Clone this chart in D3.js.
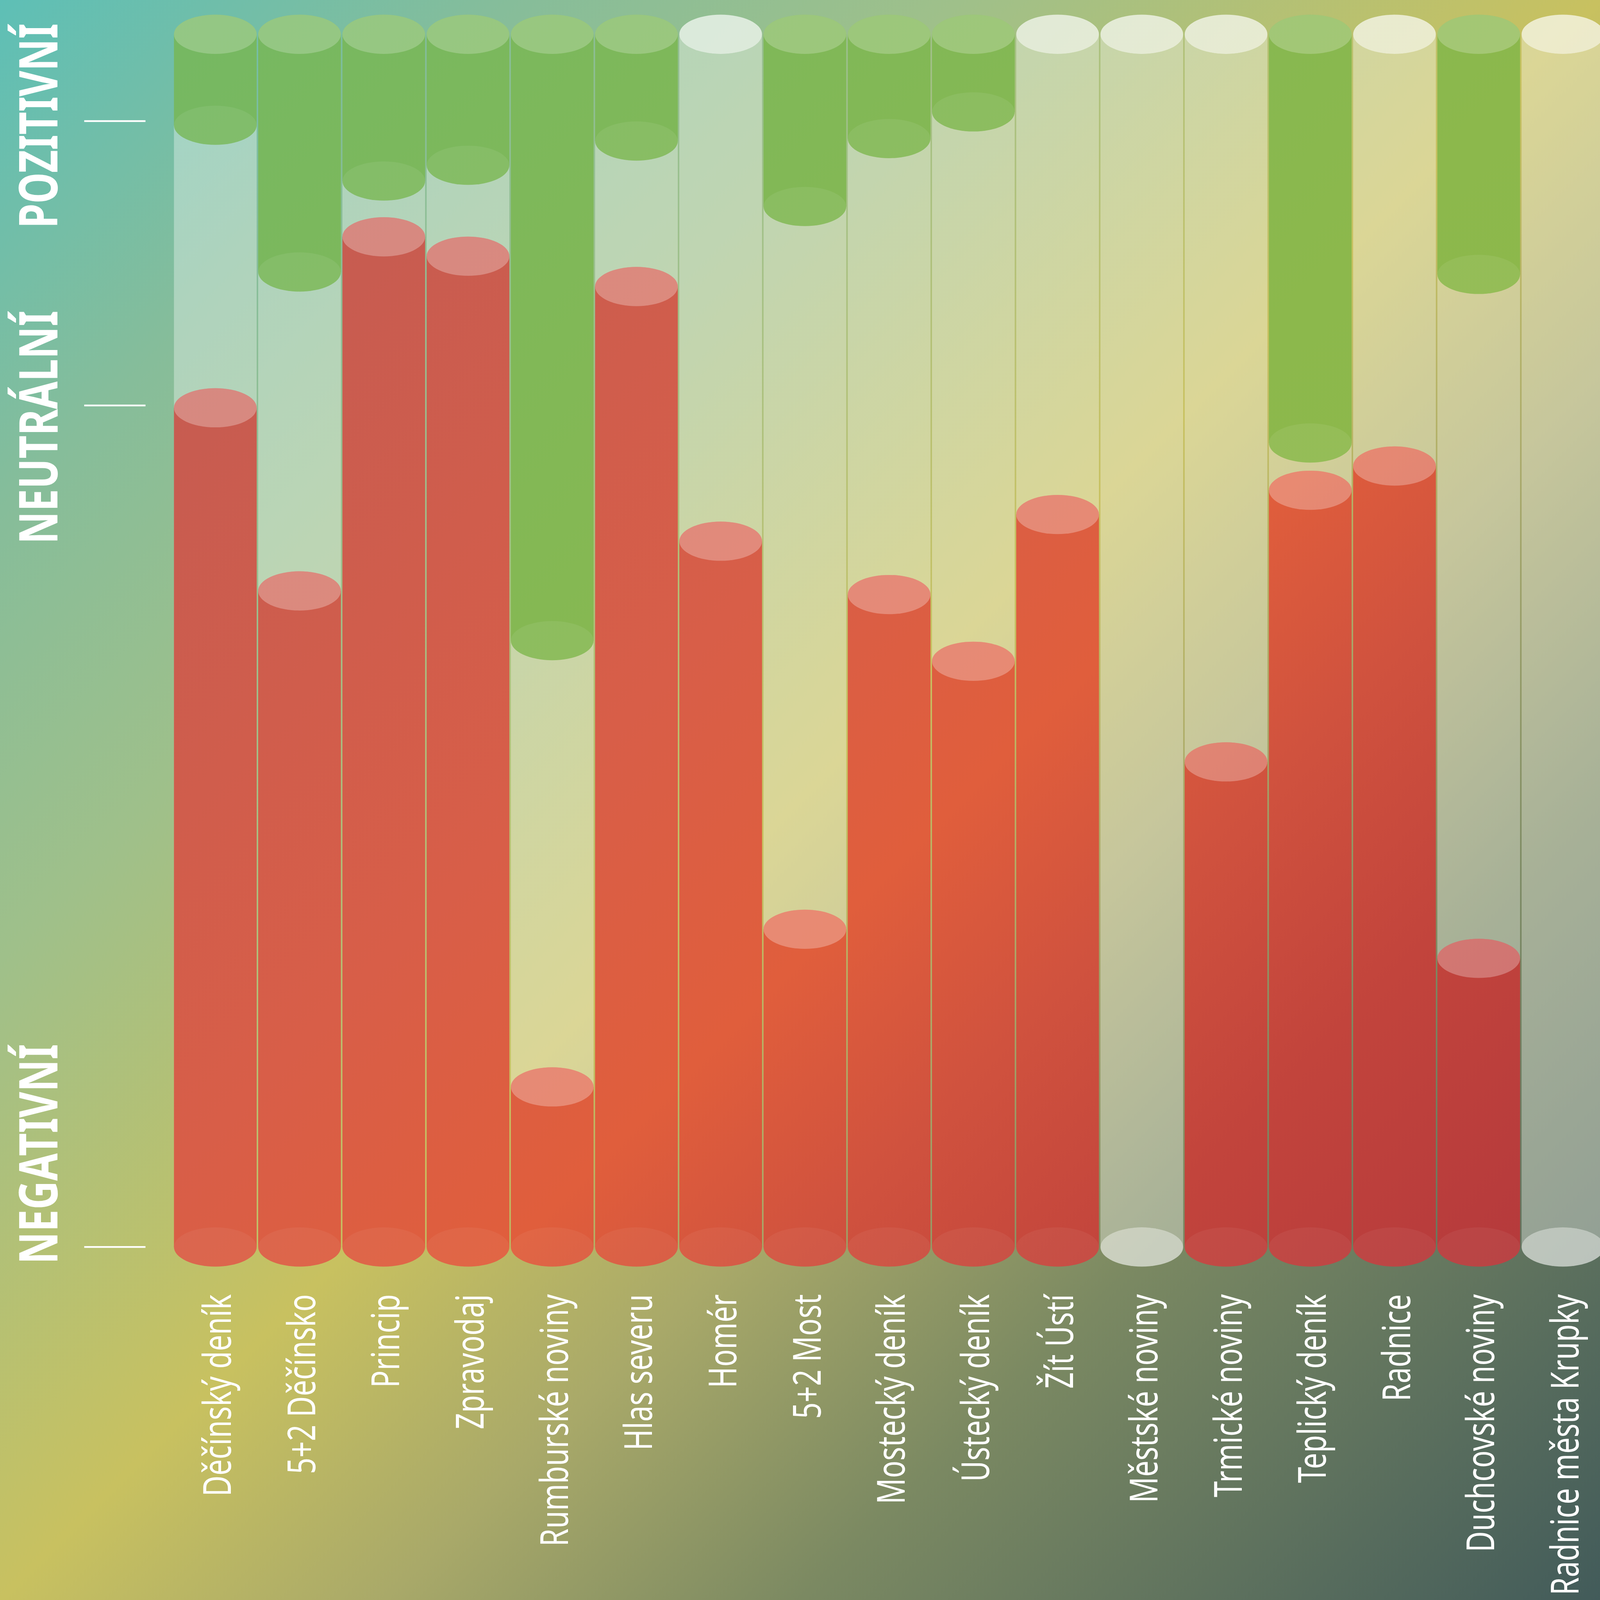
<!DOCTYPE html>
<html><head><meta charset="utf-8">
<script src="https://cdn.jsdelivr.net/npm/d3@7"></script>
<style>html,body{margin:0;padding:0;overflow:hidden;background:#fff;width:100%;height:100%}svg{display:block;width:100vw;height:100vh}</style>
</head><body>
<script>
// ---------------- DATA ----------------
const categories = ["Děčínský deník","5+2 Děčínsko","Princip","Zpravodaj","Rumburské noviny","Hlas severu","Homér","5+2 Most","Mostecký deník","Ústecký deník","Žít Ústí","Městské noviny","Trmické noviny","Teplický deník","Radnice","Duchcovské noviny","Radnice města Krupky"];
const negative = [69.2, 54.1, 83.3, 81.7, 13.2, 79.2, 58.2, 26.2, 53.8, 48.3, 60.4, 0, 40.0, 62.4, 64.4, 23.8, 0];
const neutral  = [23.3, 26.3,  4.6,  7.5, 36.8, 12.0, 41.8, 59.6, 37.6, 45.3, 39.6, 100, 60.0, 3.9, 35.6, 56.4, 100];
const positive = [ 7.5, 19.6, 12.1, 10.8, 50.0,  8.8,  0,  14.2,  8.6,  6.4,  0,   0,   0,  33.7, 0,  19.8, 0];
const axisLabels = ["NEGATIVNÍ","NEUTRÁLNÍ","POZITIVNÍ"];

// ---------------- LAYOUT ----------------
const W = 5224, H = 4573;
const svg = d3.select("body").append("svg")
  .attr("viewBox", `0 0 ${W} ${H}`).attr("preserveAspectRatio", "none");
const defs = svg.append("defs");
function grad(id, stops) {
  const g = defs.append("linearGradient").attr("id", id)
    .attr("gradientUnits", "userSpaceOnUse")
    .attr("x1", 0).attr("y1", 0).attr("x2", 4533).attr("y2", 5178);
  stops.forEach(([o, c]) => g.append("stop").attr("offset", o).attr("stop-color", c));
}
grad("bg", [[0,"#5ebfb6"],[0.16,"#86bd9a"],[0.3,"#9fc08a"],[0.5,"#c8c160"],[0.62,"#a9a969"],[0.75,"#7b8962"],[1,"#425b5a"]]);
grad("red", [[0,"#c05a58"],[0.2,"#c85c50"],[0.42,"#d85e48"],[0.55,"#e05e3c"],[0.64,"#d0523e"],[0.74,"#c2443c"],[0.84,"#b83c3c"],[1,"#a83038"]]);
grad("green", [[0,"#72b866"],[0.3,"#82b856"],[0.5,"#8cb84c"],[1,"#92b846"]]);

svg.append("rect").attr("width", W).attr("height", H).attr("fill", "url(#bg)");

const data = categories.map((c, i) => ({cat: c, negative: negative[i], neutral: neutral[i], positive: positive[i]}));
const series = d3.stack().keys(["negative","neutral","positive"])(data);

const x = d3.scaleBand().domain(categories).range([565.5, 5240.5]).paddingInner(0.018).paddingOuter(0.009);
const y = d3.scaleLinear().domain([0, 100]).range([3564, 98]);
const bw = x.bandwidth(), rx = bw / 2, ry = 56;

const bars = svg.append("g").selectAll("g").data(data).join("g");

bars.each(function(d, i) {
  const g = d3.select(this);
  const x0 = x(d.cat), x1 = x0 + bw, cx = x0 + rx;
  const neg = series[0][i], neu = series[1][i], pos = series[2][i];
  if (d.negative > 0) {
    g.append("rect").attr("x", x0).attr("width", bw).attr("y", y(neg[1])).attr("height", y(neg[0]) - y(neg[1])).attr("fill", "url(#red)");
    g.append("ellipse").attr("cx", cx).attr("cy", y(neg[0])).attr("rx", rx).attr("ry", ry).attr("fill", "url(#red)");
    g.append("ellipse").attr("cx", cx).attr("cy", y(neg[0])).attr("rx", rx).attr("ry", ry).attr("fill", "#fff").attr("fill-opacity", 0.05);
  }
  const yA = y(neu[1]), yB = y(neu[0]);
  const topCap = d.positive === 0, botCap = d.negative === 0;
  let p = `M${x0},${yA}`;
  p += topCap ? `A${rx},${ry} 0 0 0 ${x1},${yA}` : `L${x1},${yA}`;
  p += `L${x1},${yB}`;
  p += botCap ? `A${rx},${ry} 0 0 0 ${x0},${yB}` : `L${x0},${yB}`;
  p += "Z";
  g.append("path").attr("d", p).attr("fill", "#fff").attr("fill-opacity", 0.34);
  if (d.positive > 0) {
    g.append("rect").attr("x", x0).attr("width", bw).attr("y", y(pos[1])).attr("height", y(pos[0]) - y(pos[1])).attr("fill", "url(#green)");
    g.append("ellipse").attr("cx", cx).attr("cy", y(pos[0])).attr("rx", rx).attr("ry", ry).attr("fill", "url(#green)");
    g.append("ellipse").attr("cx", cx).attr("cy", y(pos[0])).attr("rx", rx).attr("ry", ry).attr("fill", "#fff").attr("fill-opacity", 0.07);
    g.append("ellipse").attr("cx", cx).attr("cy", y(pos[1])).attr("rx", rx).attr("ry", ry).attr("fill", "url(#green)");
    g.append("ellipse").attr("cx", cx).attr("cy", y(pos[1])).attr("rx", rx).attr("ry", ry).attr("fill", "#fff").attr("fill-opacity", 0.22);
  }
  if (d.negative > 0) {
    g.append("ellipse").attr("cx", cx).attr("cy", y(neg[1])).attr("rx", rx).attr("ry", ry).attr("fill", "url(#red)");
    g.append("ellipse").attr("cx", cx).attr("cy", y(neg[1])).attr("rx", rx).attr("ry", ry).attr("fill", "#fff").attr("fill-opacity", 0.28);
  }
  if (topCap) g.append("ellipse").attr("cx", cx).attr("cy", y(neu[1])).attr("rx", rx).attr("ry", ry).attr("fill", "#fff").attr("fill-opacity", 0.67);
  if (botCap) g.append("ellipse").attr("cx", cx).attr("cy", y(neu[0])).attr("rx", rx).attr("ry", ry).attr("fill", "#fff").attr("fill-opacity", 0.59);
});

// category labels
const labels = svg.append("g").selectAll("text").data(categories).join("text")
  .attr("font-family", "'Noto Sans', 'Open Sans', 'DejaVu Sans', sans-serif")
  .attr("font-size", 126).attr("fill", "#fff").attr("text-anchor", "end")
  .text(d => d);
const calib = [[0, 585], [4, 725], [5, 438], [14, 304]];
const nodes = labels.nodes();
let tgt = 0, meas = 0;
calib.forEach(([i, t]) => { tgt += t; meas += nodes[i].getComputedTextLength(); });
const f = meas > 0 ? tgt / meas : 0.8;
labels.attr("transform", d => `translate(${x(d) + bw / 2 + 51},3699) rotate(-90) scale(${f},1)`);

// axis labels & ticks
const tickY = [y(0), 1159, 346];
const labStart = [3613, 1555, 652];
const labLen = [629, 667, 585];
const ax = svg.append("g");
ax.selectAll("line").data(axisLabels).join("line")
  .attr("x1", 275).attr("x2", 475)
  .attr("y1", (d, i) => tickY[i]).attr("y2", (d, i) => tickY[i])
  .attr("stroke", "#fff").attr("stroke-width", 5);
ax.selectAll("text").data(axisLabels).join("text")
  .attr("font-family", "'Noto Sans', 'Liberation Sans Narrow', sans-serif")
  .attr("font-weight", 700).attr("font-size", 174).attr("fill", "#fff")
  .attr("text-anchor", "start")
  .attr("textLength", (d, i) => labLen[i]).attr("lengthAdjust", "spacingAndGlyphs")
  .attr("transform", (d, i) => `translate(188,${labStart[i]}) rotate(-90)`)
  .text(d => d);
</script>
</body></html>
